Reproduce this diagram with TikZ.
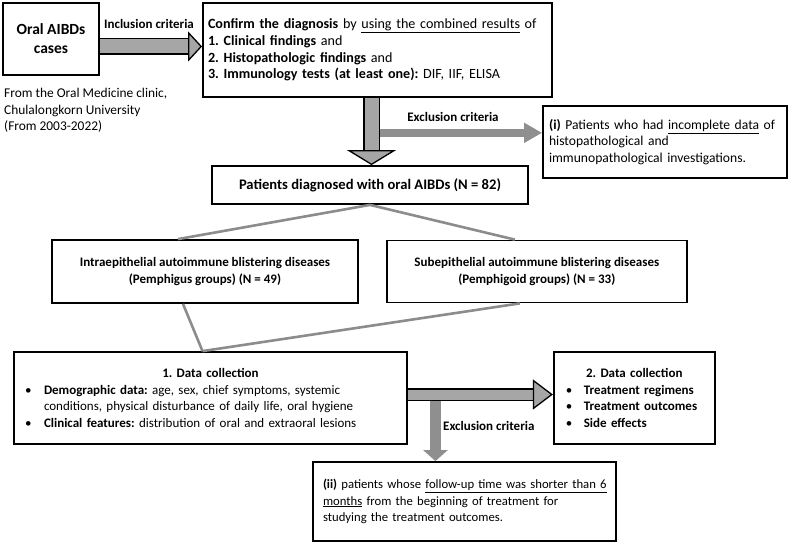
\documentclass[tikz,border=0pt]{standalone}
\usepackage{fontspec}
\setmainfont{Carlito}
\usetikzlibrary{positioning, arrows.meta, calc}
\frenchspacing

\definecolor{blockgray}{HTML}{A6A6A6}
\definecolor{exclgray}{HTML}{8F8F8F}
\definecolor{linkgray}{HTML}{8C8C8C}

\begin{document}
\begin{tikzpicture}[
  x=1pt, y=-1pt,
  every node/.style={font=\fontsize{13}{16.5}\selectfont},
  box/.style={draw, line width=1.8pt, fill=white, inner sep=0pt},
  txtbox/.style={box, align=left, inner xsep=6pt},
  ctrbox/.style={box, align=center, font=\fontsize{13}{16.5}\selectfont\bfseries},
  critlabel/.style={font=\fontsize{13}{16.5}\selectfont\bfseries, inner sep=0pt},
  link/.style={draw=linkgray, line width=2.6pt},
  inclarr/.style={draw=blockgray, line width=14pt,
    -{Triangle[length=14pt, width=30pt, color=black, fill=blockgray, line width=1.3pt]},
    preaction={draw=black, line width=17pt, -, shorten >=12pt}},
  downarr/.style={draw=blockgray, line width=14pt,
    -{Triangle[length=15pt, width=49pt, color=black, fill=blockgray, line width=1.3pt]},
    preaction={draw=black, line width=17pt, -, shorten >=13pt}},
  rightarr/.style={draw=blockgray, line width=10pt,
    -{Triangle[length=20pt, width=30pt, color=black, fill=blockgray, line width=1.3pt]},
    preaction={draw=black, line width=13pt, -, shorten >=18pt}},
  exclarr/.style={draw=exclgray, line width=8pt, -{Triangle[length=18pt, width=19pt]}},
  exclarrb/.style={draw=exclgray, line width=11pt, -{Triangle[length=11pt, width=24pt]}},
]
\useasboundingbox (0,0) rectangle (789,543);

% === Top row: cases and inclusion ===
\node[ctrbox, minimum width=96pt, minimum height=72pt,
      font=\fontsize{15.5}{19}\selectfont\bfseries] (cases) at (51,39) {Oral AIBDs\\cases};
\node[align=left, anchor=north west, inner sep=0pt, font=\fontsize{13.4}{16.5}\selectfont] (source) at (4,88)
  {From the Oral Medicine clinic,\\Chulalongkorn University\\(From 2003-2022)};

\node[txtbox, text width=339pt, inner xsep=5pt, minimum height=94pt, font=\fontsize{14.1}{16.8}\selectfont] (confirm) at (377.5,50)
  {\textbf{Confirm the diagnosis} by \underline{using the combined results} of\\
   \textbf{1. Clinical findings} and\\
   \textbf{2. Histopathologic findings} and\\
   \textbf{3. Immunology tests (at least one):} DIF, IIF, ELISA};
\draw[inclarr] ([yshift=-7.5pt]cases.east) -- ([yshift=-7.5pt]cases.east -| confirm.west);
\node[critlabel] (incl) at (149,24) {Inclusion criteria};

% === Exclusion (i) ===
\node[txtbox, text width=232pt, minimum height=72pt, font=\fontsize{13.6}{16.5}\selectfont] (excl1) at (665,142)
  {\textbf{(i)} Patients who had \underline{incomplete data} of\\
   histopathological and\\
   immunopathological investigations.};

\node[ctrbox, minimum width=316pt, minimum height=38pt, font=\fontsize{14.6}{17}\selectfont\bfseries] (patients) at (370,185)
  {Patients diagnosed with oral AIBDs (N = 82)};

\coordinate (fork1) at ($([xshift=-6pt]confirm.south)!0.52!([xshift=-6pt]confirm.south |- patients.north)$);
\draw[exclarr] (fork1) -- (fork1 -| excl1.west);
\draw[downarr] ([xshift=-6pt]confirm.south) -- ([xshift=-6pt]confirm.south |- patients.north);
\node[critlabel] (excla) at (453,117) {Exclusion criteria};

% === Disease groups ===
\node[ctrbox, minimum width=306pt, minimum height=63pt] (intra) at (205,271.5)
  {Intraepithelial autoimmune blistering diseases\\(Pemphigus groups) (N = 49)};
\node[ctrbox, minimum width=300pt, minimum height=62pt, right=27pt of intra] (sub)
  {Subepithelial autoimmune blistering diseases\\(Pemphigoid groups) (N = 33)};
\draw[link] (patients.south) -- ([xshift=-27pt]intra.north);
\draw[link] (patients.south) -- ([xshift=-22pt]sub.north);

% === Data collection ===
\node[txtbox, text width=371pt, inner xsep=11pt, minimum height=92pt] (dc1) at (210.5,398)
  {\makebox[\hsize]{\textbf{1. Data collection}}\\
   \makebox[19pt][l]{\textbullet}\textbf{Demographic data:} age, sex, chief symptoms, systemic\\
   \hspace*{19pt}conditions, physical disturbance of daily life, oral hygiene\\
   \makebox[19pt][l]{\textbullet}\textbf{Clinical features:} distribution of oral and extraoral lesions};
\node[txtbox, text width=137pt, inner xsep=12pt, minimum height=92pt, right=145pt of dc1] (dc2)
  {\makebox[\hsize]{\textbf{2. Data collection}}\\
   \makebox[18pt][l]{\textbullet}\textbf{Treatment regimens}\\
   \makebox[18pt][l]{\textbullet}\textbf{Treatment outcomes}\\
   \makebox[18pt][l]{\textbullet}\textbf{Side effects}};
\draw[link] ([xshift=-22pt]intra.south) -- ([xshift=-8pt]dc1.north);
\draw[link] ([xshift=-17pt]sub.south) -- ([xshift=-8pt]dc1.north);

% === Exclusion (ii) ===
\node[txtbox, text width=289pt, inner xsep=7pt, minimum height=79pt, font=\fontsize{12.7}{16.2}\selectfont] (excl2) at (464.5,501.5)
  {\hspace*{3pt}\textbf{(ii)} patients whose \underline{follow-up time was shorter than 6}\\
   \hspace*{3pt}\underline{months} from the beginning of treatment for\\
   \hspace*{3pt}studying the treatment outcomes.};

\coordinate (fork2) at ($([yshift=3.5pt]dc1.east)!0.19!([yshift=3.5pt]dc1.east -| dc2.west)$);
\draw[exclarrb] (fork2) -- (fork2 |- excl2.north);
\draw[rightarr] ([yshift=3.5pt]dc1.east) -- ([yshift=3.5pt]dc1.east -| dc2.west);
\node[critlabel, anchor=west] (exclb) at (443,426) {Exclusion criteria};

\end{tikzpicture}
\end{document}
